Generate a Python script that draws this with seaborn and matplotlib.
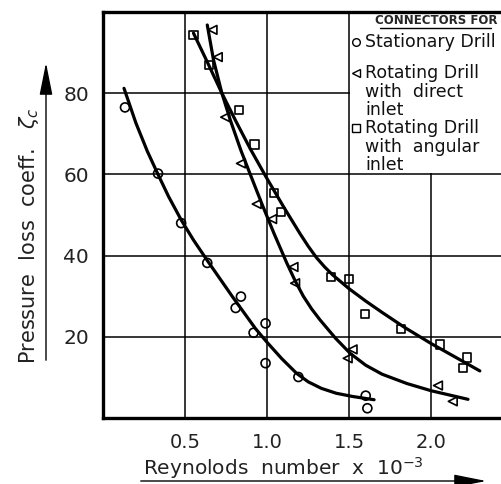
import numpy as np
import pandas as pd
import matplotlib
matplotlib.use("Agg")
import matplotlib.pyplot as plt
from matplotlib.patches import Rectangle, FancyArrowPatch
from matplotlib.lines import Line2D
import seaborn as sns

# ---------------- data ----------------
# Stationary drill (circles)
stat_x = [0.134, 0.335, 0.476, 0.635, 0.840, 0.808, 0.99, 0.917, 0.99, 1.19, 1.60, 1.61]
stat_y = [76.5, 60.2, 48.0, 38.2, 29.9, 27.1, 23.3, 21.0, 13.5, 10.1, 5.5, 2.4]
# Rotating drill, direct inlet (triangles)
dir_x = [0.667, 0.699, 0.744, 0.840, 0.936, 1.03, 1.16, 1.17, 1.52, 1.49, 2.04, 2.13]
dir_y = [95.6, 88.9, 74.1, 62.7, 52.7, 49.0, 37.2, 33.2, 16.9, 14.7, 8.0, 4.1]
# Rotating drill, angular inlet (squares)
ang_x = [0.551, 0.647, 0.827, 0.923, 1.04, 1.083, 1.387, 1.50, 1.596, 1.813, 2.054, 2.217, 2.193]
ang_y = [94.3, 86.9, 75.8, 67.4, 55.4, 50.7, 34.7, 34.2, 25.6, 22.0, 18.1, 14.9, 12.3]

# hand-drawn fitted curves
stat_cx = [0.128, 0.20, 0.27, 0.335, 0.40, 0.476, 0.55, 0.635, 0.788, 0.929, 1.0, 1.089,
           1.179, 1.25, 1.33, 1.42, 1.52, 1.651]
stat_cy = [81.2, 72.7, 65.7, 60.0, 54.5, 48.8, 43.9, 38.8, 29.9, 22.0, 18.6, 14.6,
           11.0, 8.9, 7.3, 6.1, 5.3, 4.5]
dir_cx = [0.635, 0.673, 0.724, 0.776, 0.840, 0.897, 0.968, 1.042, 1.119, 1.17, 1.22, 1.27,
          1.321, 1.417, 1.506, 1.60, 1.699, 1.85, 2.0, 2.223]
dir_cy = [96.8, 88.2, 80.0, 73.3, 65.9, 60.0, 52.7, 45.4, 38.2, 33.8, 30.0, 26.9,
          24.2, 19.6, 15.9, 13.0, 10.8, 8.5, 6.7, 4.6]
ang_cx = [0.551, 0.635, 0.724, 0.808, 0.897, 0.994, 1.10, 1.20, 1.25, 1.30, 1.35, 1.40,
          1.45, 1.50, 1.60, 1.70, 1.837, 2.0, 2.15, 2.295]
ang_cy = [94.8, 87.7, 80.0, 73.2, 66.3, 59.3, 52.0, 45.4, 42.3, 39.5, 37.2, 35.2,
          33.5, 31.8, 28.8, 26.0, 22.3, 18.3, 14.9, 11.6]

x_ticks = [0.5, 1.0, 1.5, 2.0]
x_tick_labels = ["0.5", "1.0", "1.5", "2.0"]
y_ticks = [20, 40, 60, 80]
y_tick_labels = ["20", "40", "60", "80"]

legend_title = "CONNECTORS FOR"
legend_entries = [("o", ["Stationary Drill"]),
                  ("<", ["Rotating Drill", "with  direct", "inlet"]),
                  ("s", ["Rotating Drill", "with  angular", "inlet"])]

# ---------------- figure ----------------
sns.set_style("white")
plt.rcParams['font.family'] = ['DejaVu Sans']

W, H = 502, 484
fig = plt.figure(figsize=(W / 100, H / 100), dpi=100)
ax = fig.add_axes([103 / W, 1 - 418 / H, 1 - 103 / W, (418 - 12) / H])
ax.set_xlim(0, 2.43)
ax.set_ylim(0, 100)

ax.set_xticks(x_ticks)
ax.set_xticklabels(x_tick_labels, fontsize=14, color="#222222")
ax.set_yticks(y_ticks)
ax.set_yticklabels(y_tick_labels, fontsize=14.5, color="#222222")
ax.tick_params(axis="both", length=0)
ax.tick_params(axis="x", pad=11)
ax.tick_params(axis="y", pad=10)
ax.grid(True, color="black", linewidth=1.1)
ax.set_axisbelow(True)

for side in ["left", "top", "bottom"]:
    ax.spines[side].set_visible(True)
    ax.spines[side].set_color("black")
    ax.spines[side].set_linewidth(2.4)
ax.spines["right"].set_visible(False)

# curves
for cx, cy in [(stat_cx, stat_cy), (dir_cx, dir_cy), (ang_cx, ang_cy)]:
    df = pd.DataFrame({"x": cx, "y": cy})
    sns.lineplot(data=df, x="x", y="y", sort=False, color="black", linewidth=2.3,
                 ax=ax, zorder=3)
for ln in ax.get_lines():
    ln.set_solid_joinstyle("round")
    ln.set_solid_capstyle("round")

# markers
for mx, my, mk, s in [(stat_x, stat_y, "o", 42), (dir_x, dir_y, "<", 40), (ang_x, ang_y, "s", 36)]:
    df = pd.DataFrame({"x": mx, "y": my})
    sns.scatterplot(data=df, x="x", y="y", marker=mk, s=s, facecolor="none",
                    edgecolor="black", linewidth=1.2, ax=ax, zorder=4)

ax.set_xlabel("")
ax.set_ylabel("")

# legend box (opaque, covers the grid)
ax.add_patch(Rectangle((1.507, 60.35), 1.0, 40, facecolor="white", edgecolor="none", zorder=2.5))


def fx(px):
    return px / W


def fy(py):
    return 1 - py / H


fig.text(fx(436), fy(20), legend_title, fontsize=8.5, fontweight="bold", ha="center", va="center")
fig.add_artist(Line2D([fx(380), fx(491)], [fy(28), fy(28)], color="black", linewidth=1.0))

row_y = [42, 73, 128]
line_gap = 18.5
for y0, (mk, texts) in zip(row_y, legend_entries):
    fig.add_artist(Line2D([fx(356)], [fy(y0)], marker=mk, markersize=5.5, markerfacecolor="none",
                          markeredgecolor="black", markeredgewidth=1.0, linestyle="none"))
    for i, t in enumerate(texts):
        fig.text(fx(365), fy(y0 + i * line_gap), t, fontsize=12.5, ha="left", va="center",
                 color="#111111")

# y label with arrow
fig.text(fx(29), fy(236), "Pressure  loss  coeff.   $\\zeta_c$", rotation=90, fontsize=15,
         ha="center", va="center", color="#222222")
fig.add_artist(FancyArrowPatch((fx(46), fy(363)), (fx(46), fy(60)),
               transform=fig.transFigure, arrowstyle="-|>,head_length=1.0,head_width=0.2",
               mutation_scale=20, color="black", linewidth=1.0))

# x label with arrow
fig.text(fx(143), fy(475), "Reynolods  number  x  10$^{-3}$", fontsize=14.5, ha="left",
         va="baseline", color="#222222")
fig.add_artist(FancyArrowPatch((fx(138), fy(481)), (fx(489), fy(481)),
               transform=fig.transFigure, arrowstyle="-|>,head_length=1.0,head_width=0.2",
               mutation_scale=20, color="black", linewidth=1.0))

fig.savefig("out.png", dpi=100)
